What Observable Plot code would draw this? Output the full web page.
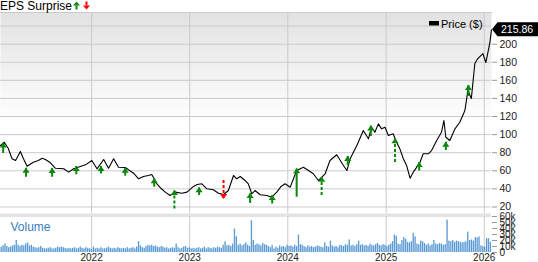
<!DOCTYPE html>
<html>
<head>
<meta charset="utf-8">
<script src="https://cdn.jsdelivr.net/npm/d3@7"></script>
<script src="https://cdn.jsdelivr.net/npm/@observablehq/plot@0.6"></script>
<style>
  html,body{margin:0;padding:0;background:#fff;}
  #chart{position:relative;width:538px;height:262px;overflow:hidden;font-family:"Liberation Sans",Arial,Helvetica,sans-serif;}
  #chart svg{position:absolute;left:0;top:0;}
  #band{position:absolute;left:0;top:213px;width:491px;height:3.5px;background:#e3e3e3;}
</style>
</head>
<body>
<div id="chart"><div id="band"></div></div>
<script>
// ---------------- data ----------------
const priceDates = [
"2021-01-27","2021-02-10","2021-02-25","2021-03-11","2021-03-24","2021-04-11","2021-04-22","2021-05-06","2021-05-29","2021-06-17",
"2021-07-01","2021-07-13","2021-07-29","2021-08-19","2021-09-19","2021-10-08","2021-10-26","2021-11-12","2021-12-09","2022-01-02",
"2022-01-21","2022-02-15","2022-03-05","2022-03-24","2022-04-11","2022-05-06","2022-06-06","2022-06-25","2022-07-13","2022-07-31",
"2022-08-13","2022-09-01","2022-09-17","2022-10-02","2022-10-20","2022-11-08","2022-12-03","2022-12-22","2023-01-15","2023-01-29",
"2023-02-15","2023-03-06","2023-03-30","2023-04-18","2023-05-07","2023-05-25","2023-06-13","2023-06-25","2023-07-08","2023-07-26",
"2023-08-07","2023-08-20","2023-09-01","2023-09-20","2023-10-15","2023-11-02","2023-11-21","2023-12-07","2023-12-22","2024-01-10",
"2024-02-03","2024-02-28","2024-03-18","2024-04-05","2024-04-24","2024-05-19","2024-06-06","2024-07-01","2024-07-26","2024-08-08",
"2024-08-20","2024-09-14","2024-10-08","2024-10-27","2024-11-08","2024-11-20","2024-12-03","2024-12-15","2024-12-28","2025-01-09",
"2025-01-27","2025-02-09","2025-02-21","2025-03-06","2025-03-18","2025-03-31","2025-04-12","2025-04-25","2025-05-07","2025-05-19",
"2025-06-07","2025-06-19","2025-07-08","2025-07-26","2025-08-04","2025-08-11","2025-08-26","2025-09-14","2025-10-02","2025-10-21",
"2025-11-01","2025-11-14","2025-11-27","2025-12-08","2025-12-27","2026-01-07","2026-01-16","2026-01-22","2026-01-28"];
const priceValues = [
88.0,91.6,84.6,73.3,71.4,81.3,73.6,65.1,69.5,71.4,
73.9,72.5,69.5,62.9,62.2,58.5,62.2,64.0,66.6,71.4,
62.2,72.5,62.9,73.3,64.0,63.6,57.3,51.2,53.7,54.8,
55.9,45.6,40.4,36.4,32.7,36.4,35.2,36.4,42.7,44.9,
45.6,40.1,39.0,35.2,33.8,38.2,54.8,51.2,53.7,49.3,
45.6,34.6,38.2,33.5,32.7,30.8,36.4,42.7,45.6,41.9,
60.3,64.0,60.3,56.7,49.3,56.7,71.4,77.7,65.9,60.3,
73.3,88.0,104.5,95.4,108.2,102.7,111.9,106.4,108.2,99.0,
100.9,91.6,84.3,73.3,65.9,51.8,58.5,64.0,69.5,78.8,
78.8,82.4,93.5,102.7,115.6,97.1,93.5,106.4,113.7,126.6,
148.7,139.9,178.6,184.1,189.6,179.7,192.9,201.8,215.86];
const lastPrice = 215.86;

// EPS surprise arrows: date, price at arrow tip, price at arrow tail
const epsDates = ["2021-02-06","2021-05-02","2021-08-07","2021-11-05","2022-02-05","2022-05-06","2022-08-22","2022-11-05","2023-02-05","2023-05-07",
                  "2023-08-14","2023-11-04","2024-02-03","2024-05-06","2024-08-11","2024-11-05","2025-02-03","2025-05-04","2025-08-11","2025-11-03"];
const epsTip  = [90.7,62.9,62.5,64.8,64.8,62.9,51.2,38.2,41.2,29.4,34.9,32.7,62.2,52.9,75.8,109.5,95.4,69.2,91.6,154.3];
const epsTail = [79.1,52.9,52.9,55.6,56.5,54.0,41.9,17.8,32.7,49.3,23.9,23.3,30.8,32.7,65.9,97.9,69.2,59.8,82.4,142.1];
const epsResult = ["beat","beat","beat","beat","beat","beat","beat","beat","beat","miss","beat","beat","beat","beat","beat","beat","beat","beat","beat","beat"];
const epsStem = ["solid","solid","solid","solid","solid","solid","solid","dashed","solid","dashed","solid","solid","solid","dashed","solid","solid","dashed","solid","solid","solid"];

// weekly volume (thousands), first week starting volumeStart
const volumeStart = "2021-01-29";
const volumeK = [
 9,11,14,10, 8, 9,11,12,20,12,10,12,11,
14,16,11,12, 9, 8, 7, 8,10, 7, 6, 6, 7,
 8, 6, 6, 7, 9, 8, 9, 8, 7, 6, 7, 6, 7,
 8, 6, 7, 9, 7, 6, 8, 7, 6, 5, 9, 6, 7,
 6, 8, 6, 6, 7, 9, 7, 6, 7, 6, 8, 7, 6,
 7, 6, 8, 6, 7, 8, 6, 9,18,11, 8, 7,10,
12,11,12,10,11, 9, 8,10, 9, 7, 8, 6, 7,
 8, 7,14, 8, 6, 7, 9,10, 7, 8, 6, 7, 6,
 7, 8, 6, 7, 9, 6, 8, 7, 6, 8, 7, 9, 8,
 7,12,18,11,12,10,14,39,26,12,14,11,13,
16,12,10,53,20,12,14,13,11,15,13,12,10,
 8,12, 6, 9, 7,11, 9,10, 8,12,10,11, 9,
12,10,29,13,12,10, 8,11, 9,10, 8, 9,11,
10, 9, 8,16,10, 9,19,11, 9,10, 8,12,11,
10,13,12,21,11,12,10,13,19,12,13,11,12,
10,14,12,11,13,15,12,11,13,12,10,12,14,
18,29,27,14,13,20,25,22,17,16,18,32,26,
14,13,19,18,15,12,14,11,13,20,14,13,15,
14,12,13,54,19,18,20,17,19,18,17,16,17,
18,34,20,21,19,25,24,26,11,10, 9,23,23,
17];

const yearTicks = ["2022-01-01","2023-01-01","2024-01-01","2025-01-01","2026-01-01"];
const priceTicks = [20,40,60,80,100,120,140,160,180,200];
const priceGrid = [20,40,60,80,100,120,140,160,180,200,220];
const volumeTicks = [0,10,20,30,40,50,60];

// ---------------- chart ----------------
const FONT = '"Liberation Sans", Arial, Helvetica, sans-serif';
const W = 538, H = 262, MR = 47;
const GREEN = "#0b870b", RED = "#ff0000", GRID = "#cbcbcb", VOL = "#5b9bd5";
const xDomain = [new Date("2021-01-27"), new Date("2026-01-28")];
const years = yearTicks.map(d => new Date(d));

const price = priceDates.map((d, i) => ({date: new Date(d), price: priceValues[i]}));
const eps = epsDates.map((d, i) => ({date: new Date(d), tip: epsTip[i], tail: epsTail[i], beat: epsResult[i] === "beat", dashed: epsStem[i] === "dashed"}));
const volume = volumeK.map((v, i) => ({start: d3.utcDay.offset(new Date(volumeStart), 7 * i), v}));

const headUp = {draw(ctx) { ctx.moveTo(0, -0.5); ctx.lineTo(3.6, 4.5); ctx.lineTo(-3.6, 4.5); ctx.closePath(); }};
const headDown = {draw(ctx) { ctx.moveTo(0, 0.5); ctx.lineTo(3.6, -4.5); ctx.lineTo(-3.6, -4.5); ctx.closePath(); }};

const styleBase = {fontFamily: FONT, fontSize: "10.5px", background: "none", color: "#222", overflow: "visible"};

const priceTag = (index, scales, values, dims) => {
  const y = scales.y(lastPrice);
  const xr = dims.width - dims.marginRight;
  const g = d3.create("svg:g");
  g.append("path")
    .attr("d", `M${xr + 1},${y} L${xr + 6.5},${y - 7} L${W},${y - 7} L${W},${y + 7} L${xr + 6.5},${y + 7} Z`)
    .attr("fill", "#000");
  g.append("text")
    .attr("x", xr + 10).attr("y", y).attr("dy", "0.35em")
    .attr("text-anchor", "start")
    .attr("fill", "#fff").attr("font-size", 10.5)
    .text(lastPrice.toFixed(2));
  return g.node();
};

const pricePlot = Plot.plot({
  width: W, height: H,
  marginLeft: 0, marginRight: MR, marginTop: 12, marginBottom: 49,
  style: styleBase,
  x: {type: "utc", domain: xDomain, axis: null},
  y: {domain: [12.8, 235]},
  marks: [
    Plot.frame({fill: "url(#priceBg)", stroke: null}),
    Plot.gridY({ticks: priceGrid, stroke: GRID, strokeOpacity: 1}),
    Plot.gridX({ticks: years, stroke: GRID, strokeOpacity: 1}),
    Plot.frame({anchor: "top", stroke: GRID, strokeOpacity: 1}),
    Plot.axisY({ticks: priceTicks, anchor: "right", tickSize: 5, tickPadding: 3, stroke: "#999", fill: "#222", tickFormat: d => String(d), label: null}),
    Plot.line(price, {x: "date", y: "price", stroke: "#000", strokeWidth: 1.1}),
    Plot.ruleX(eps.filter(d => d.beat && !d.dashed), {x: "date", y1: "tail", y2: "tip", stroke: GREEN, strokeWidth: 2}),
    Plot.ruleX(eps.filter(d => d.beat && d.dashed), {x: "date", y1: "tail", y2: "tip", stroke: GREEN, strokeWidth: 2, strokeDasharray: "3,2"}),
    Plot.ruleX(eps.filter(d => !d.beat), {x: "date", y1: "tail", y2: "tip", stroke: RED, strokeWidth: 2, strokeDasharray: "3,2"}),
    Plot.dot(eps.filter(d => d.beat), {x: "date", y: "tip", symbol: headUp, fill: GREEN, r: 4}),
    Plot.dot(eps.filter(d => !d.beat), {x: "date", y: "tip", symbol: headDown, fill: RED, r: 4}),
    priceTag
  ]
});

const volPlot = Plot.plot({
  width: W, height: H,
  marginLeft: 0, marginRight: MR, marginTop: 216, marginBottom: 10,
  style: styleBase,
  x: {type: "utc", domain: xDomain},
  y: {domain: [0, 60]},
  marks: [
    Plot.gridX({ticks: years, stroke: GRID, strokeOpacity: 1}),
    Plot.rect(volume, {x1: "start", x2: d => d3.utcDay.offset(d.start, 5), y1: 0, y2: "v", fill: VOL}),
    Plot.axisY({ticks: volumeTicks, anchor: "right", tickSize: 5, tickPadding: 3, stroke: "#999", fill: "#222", fontSize: 10,
                tickFormat: d => d === 0 ? "0" : d + "k", label: null}),
    Plot.axisX({ticks: years, tickSize: 0, tickPadding: 1.5, fontSize: 10, tickFormat: d3.utcFormat("%Y"), fill: "#222", label: null}),
    Plot.text(["Volume"], {frameAnchor: "top-left", dx: 10, dy: 6, fill: "#3a7dc0", fontSize: 12})
  ]
});

const chart = document.getElementById("chart");
chart.appendChild(pricePlot);
chart.appendChild(volPlot);

// gradient background for the price panel
const psvg = d3.select(pricePlot);
const defs = psvg.insert("defs", ":first-child");
const grad = defs.append("linearGradient").attr("id", "priceBg").attr("x1", 0).attr("y1", 0).attr("x2", 0).attr("y2", 1);
grad.append("stop").attr("offset", "0%").attr("stop-color", "#e2e2e2");
grad.append("stop").attr("offset", "55%").attr("stop-color", "#ffffff");
grad.append("stop").attr("offset", "100%").attr("stop-color", "#ffffff");

// header: "EPS Surprise" with beat/miss icons
const hdr = psvg.append("g").attr("text-anchor", "start");
hdr.append("text").attr("x", 0).attr("y", 9.5).attr("font-size", 12).attr("fill", "#000").text("EPS Surprise");
const gi = hdr.append("g").attr("fill", GREEN);
gi.append("path").attr("d", "M73,5.5 L76.5,1.5 L80,5.5 Z");
gi.append("rect").attr("x", 75.5).attr("y", 5.5).attr("width", 2).attr("height", 4);
const ri = hdr.append("g").attr("fill", RED);
ri.append("rect").attr("x", 85.5).attr("y", 1.5).attr("width", 2).attr("height", 4);
ri.append("path").attr("d", "M83,5.5 L90,5.5 L86.5,9.5 Z");

// legend: Price ($)
const lg = psvg.append("g").attr("text-anchor", "start");
lg.append("rect").attr("x", 429).attr("y", 21).attr("width", 10).attr("height", 4.5).attr("fill", "#000");
lg.append("text").attr("x", 441).attr("y", 27.5).attr("font-size", 11).attr("fill", "#000").text("Price ($)");
</script>
</body>
</html>
